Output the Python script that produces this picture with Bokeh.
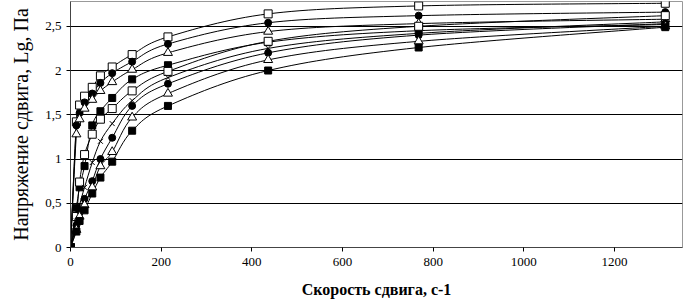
from bokeh.plotting import figure
from bokeh.models import FixedTicker, Range1d
from bokeh.embed import file_html
from bokeh.resources import INLINE

shear_rate = [0, 13, 20, 31, 48, 66, 92, 136, 215, 436, 768, 1312]

a_open_square = [0, 1.42, 1.61, 1.71, 1.81, 1.94, 2.04, 2.18, 2.38, 2.64, 2.73, 2.76]
a_filled_circle = [0, 1.38, 1.52, 1.64, 1.74, 1.86, 1.97, 2.10, 2.30, 2.54, 2.62, 2.66]
a_triangle = [0, 1.28, 1.45, 1.57, 1.67, 1.77, 1.87, 2.01, 2.20, 2.44, 2.53, 2.58]
a_filled_square = [0, 0.45, 0.68, 0.92, 1.38, 1.54, 1.69, 1.90, 2.06, 2.32, 2.45, 2.52]
b_open_square = [0, 0.35, 0.74, 1.05, 1.28, 1.45, 1.57, 1.77, 1.99, 2.33, 2.50, 2.62]
b_cross = [0, 0.30, 0.48, 0.68, 0.96, 1.20, 1.40, 1.66, 1.92, 2.25, 2.42, 2.55]
b_filled_circle = [0, 0.25, 0.42, 0.55, 0.75, 1.00, 1.24, 1.60, 1.85, 2.20, 2.40, 2.53]
b_triangle = [0, 0.20, 0.35, 0.48, 0.68, 0.92, 1.08, 1.47, 1.74, 2.12, 2.33, 2.50]
b_filled_square = [0, 0.18, 0.30, 0.42, 0.61, 0.79, 0.97, 1.32, 1.60, 2.00, 2.26, 2.49]

y_ticks = [0, 0.5, 1, 1.5, 2, 2.5]
y_tick_labels = ["0", "0,5", "1", "1,5", "2", "2,5"]
x_ticks = [0, 200, 400, 600, 800, 1000, 1200]

series = [
    (a_open_square, "square", "white", 8),
    (a_filled_circle, "circle", "black", 7),
    (a_triangle, "triangle", "white", 9),
    (a_filled_square, "square", "black", 7),
    (b_open_square, "square", "white", 8),
    (b_cross, "x", "black", 7),
    (b_filled_circle, "circle", "black", 7),
    (b_triangle, "triangle", "white", 9),
    (b_filled_square, "square", "black", 7),
]


def smooth_segments(xs, ys):
    """Catmull-Rom style Bezier segments through the data points (like Excel smoothing)."""
    n = len(xs)
    x0, y0, x1, y1, cx0, cy0, cx1, cy1 = [], [], [], [], [], [], [], []
    for i in range(n - 1):
        xp, yp = (xs[i - 1], ys[i - 1]) if i > 0 else (xs[i], ys[i])
        xn, yn = (xs[i + 2], ys[i + 2]) if i + 2 < n else (xs[i + 1], ys[i + 1])
        x0.append(xs[i]); y0.append(ys[i])
        x1.append(xs[i + 1]); y1.append(ys[i + 1])
        cx0.append(xs[i] + (xs[i + 1] - xp) / 6.0)
        cy0.append(ys[i] + (ys[i + 1] - yp) / 6.0)
        cx1.append(xs[i + 1] - (xn - xs[i]) / 6.0)
        cy1.append(ys[i + 1] - (yn - ys[i]) / 6.0)
    return dict(x0=x0, y0=y0, x1=x1, y1=y1, cx0=cx0, cy0=cy0, cx1=cx1, cy1=cy1)


p = figure(width=683, height=300, output_backend="svg", toolbar_location=None,
           x_range=Range1d(0, 1350), y_range=Range1d(0, 2.78),
           min_border_left=70, min_border_right=1, min_border_top=1, min_border_bottom=52)
p.background_fill_color = "white"
p.border_fill_color = "white"
p.outline_line_color = "#999999"

p.xgrid.visible = False
p.ygrid.grid_line_color = "black"
p.ygrid.grid_line_width = 1
p.ygrid.ticker = FixedTicker(ticks=y_ticks)

p.yaxis.ticker = FixedTicker(ticks=y_ticks)
p.yaxis.major_label_overrides = {t: l for t, l in zip(y_ticks, y_tick_labels)}
p.xaxis.ticker = FixedTicker(ticks=x_ticks)

for ax in (p.xaxis, p.yaxis):
    ax.axis_line_color = "#444444"
    ax.major_tick_line_color = "black"
    ax.major_tick_out = 4
    ax.major_tick_in = 0
    ax.minor_tick_line_color = None
    ax.major_label_text_font = "Liberation Serif"
    ax.major_label_text_font_size = "13px"
    ax.major_label_text_color = "black"
    ax.axis_label_text_font = "Liberation Serif"
    ax.axis_label_text_color = "black"

p.xaxis.axis_label = "Скорость сдвига, с-1"
p.xaxis.axis_label_text_font_style = "bold"
p.xaxis.axis_label_text_font_size = "16px"
p.xaxis.axis_label_standoff = 12
p.xaxis.major_label_standoff = 6

p.yaxis.axis_label = "Напряжение сдвига, Lg, Па"
p.yaxis.axis_label_text_font_style = "normal"
p.yaxis.axis_label_text_font_size = "20px"
p.yaxis.axis_label_standoff = 10
p.yaxis.major_label_standoff = 5

for ys, marker, fill, size in series:
    p.bezier(source=smooth_segments(shear_rate, ys), x0="x0", y0="y0", x1="x1", y1="y1",
             cx0="cx0", cy0="cy0", cx1="cx1", cy1="cy1", line_color="black", line_width=1)
for ys, marker, fill, size in series:
    p.scatter(shear_rate, ys, marker=marker, size=size, fill_color=fill,
              line_color="black", line_width=1)

open("out.html", "w").write(file_html(p, INLINE))
